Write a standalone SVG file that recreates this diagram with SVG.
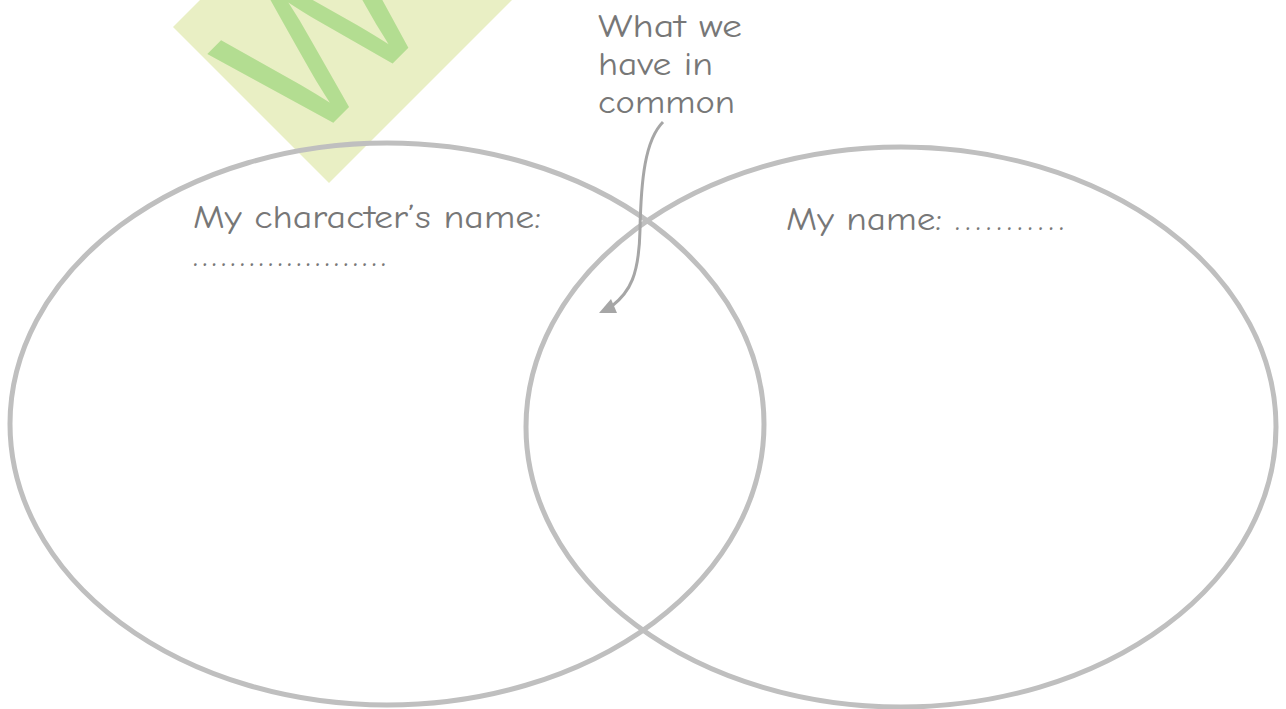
<svg xmlns="http://www.w3.org/2000/svg" width="1286" height="709" viewBox="0 0 1286 709">
<style>
.venn{fill:none;stroke:#bfbfbf;stroke-width:5}
.lbl{font-family:"Comic Neue","DejaVu Sans","Liberation Sans",sans-serif;fill:#777;font-size:32px}
.conn{fill:none;stroke:#a6a6a6;stroke-width:3}
</style>
<rect width="1286" height="709" fill="#fff"/>
<g id="watermark">
<polygon points="173,27 329,183 530,-18 374,-174" fill="#e9efc4"/>
<text transform="translate(304,152) rotate(-45)" font-family="Liberation Sans, sans-serif" font-size="200" fill="#b3dd91">Wo</text>
</g>
<g id="left-circle">
<ellipse class="venn" cx="387" cy="424" rx="377" ry="281"/>
<text class="lbl" x="193" y="228" textLength="348" lengthAdjust="spacingAndGlyphs">My character’s name:</text>
<text class="lbl" x="193" y="266" textLength="193">.....................</text>
</g>
<g id="right-circle">
<ellipse class="venn" cx="901" cy="427" rx="375" ry="280"/>
<text class="lbl" x="786" y="230" textLength="156" lengthAdjust="spacingAndGlyphs">My name:</text>
<text class="lbl" x="955" y="230" textLength="109">...........</text>
</g>
<g id="common-label">
<text class="lbl" x="598" y="37" textLength="144" lengthAdjust="spacingAndGlyphs">What we</text>
<text class="lbl" x="598" y="75" textLength="115" lengthAdjust="spacingAndGlyphs">have in</text>
<text class="lbl" x="598" y="113" textLength="137" lengthAdjust="spacingAndGlyphs">common</text>
</g>
<g id="connectors">
<path class="conn" d="M663,122 C645,140 641,180 640,230 C639,275 630,292 612,306"/>
<polygon points="599,313 617,313 611,299" fill="#a6a6a6"/>
</g>
</svg>
